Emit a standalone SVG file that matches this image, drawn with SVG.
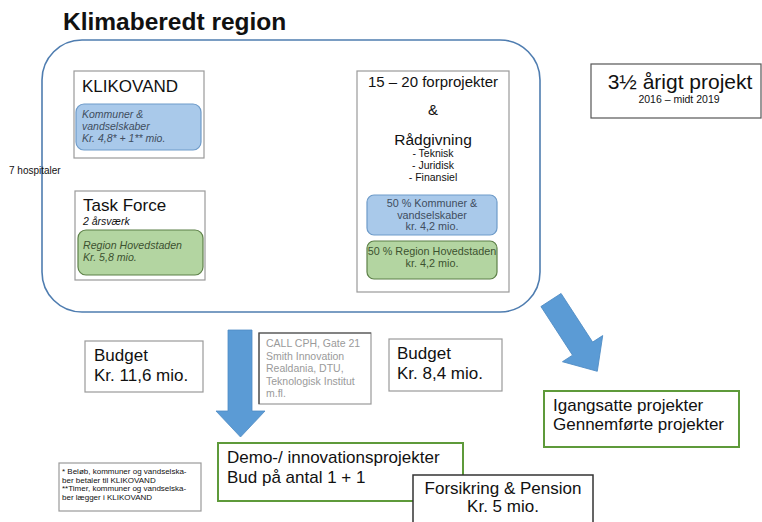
<svg xmlns="http://www.w3.org/2000/svg" width="762" height="522" viewBox="0 0 762 522">
<style>
text{font-family:"Liberation Sans",Arial,sans-serif;fill:#111}
.box{fill:#fff;stroke:#9a9a9a;stroke-width:1.2}
.blue{fill:#a9c9ea;stroke:#6e9bc9;stroke-width:1.2}
.green{fill:#b3d5a1;stroke:#5d8048;stroke-width:1.2}
.tb{fill:#3f4d5e}
.tg{fill:#3c5230}
.gray{fill:#9a9a9a}
.gb{fill:#fff;stroke:#5e9a3a;stroke-width:2}
.arrow{fill:#5b9bd5;stroke:#4f8cc4;stroke-width:0.8}
.c{text-anchor:middle}
</style>
<rect width="762" height="522" fill="#fff"/>
<text x="63" y="30" font-size="24.5" font-weight="bold">Klimaberedt region</text>
<g id="region">
<rect x="42" y="40" width="498" height="272" rx="40" ry="40" fill="none" stroke="#4f7db0" stroke-width="1.6"/>
</g>
<text x="9" y="174" font-size="10">7 hospitaler</text>
<g id="klikovand">
<rect class="box" x="74" y="71" width="130" height="87"/>
<text x="82" y="92" font-size="17">KLIKOVAND</text>
<rect class="blue" x="76" y="104" width="125" height="46" rx="8"/>
<text class="tb" x="82" y="118" font-size="10.5" font-style="italic">Kommuner &amp;</text>
<text class="tb" x="82" y="130" font-size="10.5" font-style="italic">vandselskaber</text>
<text class="tb" x="82" y="142" font-size="10.5" font-style="italic">Kr. 4,8* + 1** mio.</text>
</g>
<g id="taskforce">
<rect class="box" x="75" y="191" width="130" height="89"/>
<text x="83" y="211" font-size="17">Task Force</text>
<text x="83" y="225" font-size="10.5" font-style="italic">2 årsværk</text>
<rect class="green" x="78" y="230" width="125" height="45" rx="8"/>
<text class="tg" x="83" y="249" font-size="10.6" font-style="italic">Region Hovedstaden</text>
<text class="tg" x="83" y="261" font-size="10.6" font-style="italic">Kr. 5,8 mio.</text>
</g>
<g id="forprojekter">
<rect class="box" x="357" y="71" width="152" height="221"/>
<text class="c" x="433" y="87" font-size="15">15 – 20 forprojekter</text>
<text class="c" x="433" y="115" font-size="15">&amp;</text>
<text class="c" x="433" y="145" font-size="15.5">Rådgivning</text>
<text class="c" x="433" y="157" font-size="10.5">- Teknisk</text>
<text class="c" x="433" y="169" font-size="10.5">- Juridisk</text>
<text class="c" x="433" y="181" font-size="10.5">- Finansiel</text>
<rect class="blue" x="367" y="195" width="130" height="40" rx="7"/>
<text class="c tb" x="432" y="207" font-size="10.8">50 % Kommuner &amp;</text>
<text class="c tb" x="432" y="219" font-size="10.8">vandselskaber</text>
<text class="c tb" x="432" y="230" font-size="10.8">kr. 4,2 mio.</text>
<rect class="green" x="367" y="241" width="130" height="38" rx="7"/>
<text class="c tg" x="432" y="255" font-size="10.8">50 % Region Hovedstaden</text>
<text class="c tg" x="432" y="267" font-size="10.8">kr. 4,2 mio.</text>
</g>
<g id="projekt">
<rect x="591" y="64" width="170" height="54" fill="#fff" stroke="#555" stroke-width="1.2"/>
<text class="c" x="680" y="89" font-size="21">3½ årigt projekt</text>
<text class="c" x="679" y="103" font-size="10.5">2016 – midt 2019</text>
</g>
<g id="connectors">
<path class="arrow" d="M228,330 H252 V411 H265 L240.5,437 L216,411 H228 Z"/>
<path class="arrow" transform="translate(551,300) rotate(57)" d="M0,-12 H58 V-24 L85,0 L58,24 V12 H0 Z"/>
</g>
<g id="budget1">
<rect class="box" x="85" y="341" width="118" height="51"/>
<text x="94" y="361" font-size="17">Budget</text>
<text x="94" y="381" font-size="17">Kr. 11,6 mio.</text>
</g>
<g id="partners">
<rect class="box" x="259" y="333" width="112" height="71"/>
<path d="M259,404 V333 H371" fill="none" stroke="#444" stroke-width="1.2"/>
<text class="gray" x="266" y="347" font-size="10.5">CALL CPH, Gate 21</text>
<text class="gray" x="266" y="359.5" font-size="10.5">Smith Innovation</text>
<text class="gray" x="266" y="372" font-size="10.5">Realdania, DTU,</text>
<text class="gray" x="266" y="384.5" font-size="10.5">Teknologisk Institut</text>
<text class="gray" x="266" y="397" font-size="10.5">m.fl.</text>
</g>
<g id="budget2">
<rect class="box" x="389" y="339" width="113" height="52"/>
<text x="397" y="359" font-size="17">Budget</text>
<text x="397" y="379" font-size="17">Kr. 8,4 mio.</text>
</g>
<g id="igangsatte">
<rect class="gb" x="544" y="391" width="195" height="56"/>
<text x="553" y="411" font-size="17">Igangsatte projekter</text>
<text x="553" y="430" font-size="17">Gennemførte projekter</text>
</g>
<g id="footnote">
<rect class="box" x="59" y="463" width="142" height="48"/>
<text x="62" y="474" font-size="8">* Beløb, kommuner og vandselska-</text>
<text x="62" y="482.7" font-size="8">ber betaler til KLIKOVAND</text>
<text x="62" y="491.4" font-size="8">**Timer, kommuner og vandselska-</text>
<text x="62" y="500" font-size="8">ber lægger i KLIKOVAND</text>
</g>
<g id="demo">
<rect class="gb" x="218" y="443" width="245" height="58"/>
<text x="227" y="463" font-size="17">Demo-/ innovationsprojekter</text>
<text x="227" y="483" font-size="17">Bud på antal 1 + 1</text>
</g>
<g id="forsikring">
<rect x="413" y="475" width="180" height="60" fill="#fff" stroke="#333" stroke-width="1.5"/>
<text class="c" x="503" y="494" font-size="17">Forsikring &amp; Pension</text>
<text class="c" x="503" y="512" font-size="17">Kr. 5 mio.</text>
</g>
</svg>
